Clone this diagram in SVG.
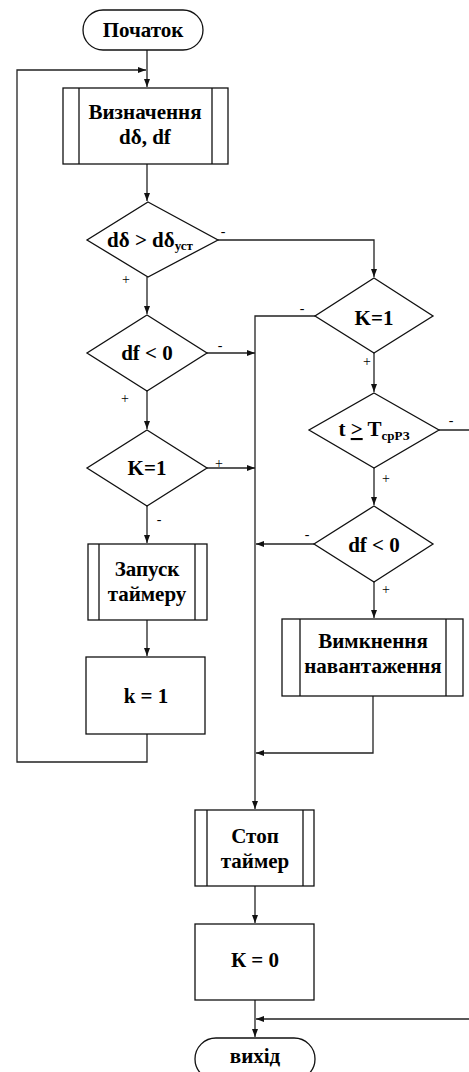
<svg xmlns="http://www.w3.org/2000/svg" width="469" height="1072" viewBox="0 0 469 1072" font-family="Liberation Serif, Times New Roman, serif">
<defs>
<marker id="ar" viewBox="0 0 8 6" refX="8" refY="3" markerWidth="8" markerHeight="6" markerUnits="userSpaceOnUse" orient="auto">
<path d="M0,0 L8,3 L0,6 Z" fill="#111"/>
</marker>
<style>
.s{fill:#fff;stroke:#111;stroke-width:1.3}
.c{fill:none;stroke:#222;stroke-width:1.3}
.t{font-weight:bold;font-size:21px;fill:#000;text-anchor:middle}
.sub{font-size:13px}
.l{font-size:14px;fill:#000;text-anchor:middle}
</style>
</defs>
<rect width="469" height="1072" fill="#fff"/>
<g id="connectors">
<path class="c" d="M147,50 V87" marker-end="url(#ar)"/>
<path class="c" d="M147,734 V762 H17 V70 H146" marker-end="url(#ar)"/>
<path class="c" d="M147,164 V201" marker-end="url(#ar)"/>
<path class="c" d="M218,240 H374 V277" marker-end="url(#ar)"/>
<path class="c" d="M147,277 V314" marker-end="url(#ar)"/>
<path class="c" d="M207,353 H255" marker-end="url(#ar)"/>
<path class="c" d="M147,391 V429" marker-end="url(#ar)"/>
<path class="c" d="M207,468 H255" marker-end="url(#ar)"/>
<path class="c" d="M147,506 V543" marker-end="url(#ar)"/>
<path class="c" d="M147,620 V656" marker-end="url(#ar)"/>
<path class="c" d="M315,316 H255 V809" marker-end="url(#ar)"/>
<path class="c" d="M374,353 V392" marker-end="url(#ar)"/>
<path class="c" d="M374,468 V505" marker-end="url(#ar)"/>
<path class="c" d="M314,544 H256" marker-end="url(#ar)"/>
<path class="c" d="M374,582 V618" marker-end="url(#ar)"/>
<path class="c" d="M373,696 V753 H256" marker-end="url(#ar)"/>
<path class="c" d="M439,430 H470 V1019 H256" marker-end="url(#ar)"/>
<path class="c" d="M255,886 V923" marker-end="url(#ar)"/>
<path class="c" d="M255,1000 V1037" marker-end="url(#ar)"/>
<text class="l" x="223" y="236">-</text>
<text class="l" x="126" y="284">+</text>
<text class="l" x="302" y="313">-</text>
<text class="l" x="367" y="366">+</text>
<text class="l" x="220" y="350">-</text>
<text class="l" x="125" y="403">+</text>
<text class="l" x="219" y="468">+</text>
<text class="l" x="159" y="524">-</text>
<text class="l" x="451" y="425">-</text>
<text class="l" x="386" y="483">+</text>
<text class="l" x="307" y="539">-</text>
<text class="l" x="386" y="594">+</text>
</g>
<g id="start">
<rect class="s" x="83" y="10" width="120" height="40" rx="20"/>
<text class="t" x="143" y="37">Початок</text>
</g>
<g id="determine">
<rect class="s" x="63" y="88" width="165" height="76"/>
<path class="s" d="M79,88 V164 M212,88 V164"/>
<text class="t" x="145" y="119">Визначення</text>
<text class="t" x="145" y="144">dδ, df</text>
</g>
<g id="cond1">
<polygon class="s" points="148,202 218,240 148,277 87,240"/>
<text class="t" x="150" y="247">dδ &gt; dδ<tspan class="sub" dy="3">уст</tspan></text>
</g>
<g id="cond_df_left">
<polygon class="s" points="147,315 207,353 147,391 87,353"/>
<text class="t" x="147" y="360">df &lt; 0</text>
</g>
<g id="cond_k_left">
<polygon class="s" points="147,430 207,468 147,506 87,468"/>
<text class="t" x="147" y="475">K=1</text>
</g>
<g id="start_timer">
<rect class="s" x="88" y="544" width="119" height="76"/>
<path class="s" d="M99,544 V620 M195,544 V620"/>
<text class="t" x="147" y="576">Запуск</text>
<text class="t" x="147" y="601">таймеру</text>
</g>
<g id="k1">
<rect class="s" x="86" y="657" width="119" height="77"/>
<text class="t" x="146" y="703">k = 1</text>
</g>
<g id="cond_k_right">
<polygon class="s" points="374,278 433,316 374,353 315,316"/>
<text class="t" x="374" y="325">K=1</text>
</g>
<g id="cond_t">
<polygon class="s" points="374,393 439,430 374,468 309,430"/>
<text class="t" x="374" y="436">t <tspan text-decoration="underline">&gt;</tspan> T<tspan class="sub" dy="4">срРЗ</tspan></text>
</g>
<g id="cond_df_right">
<polygon class="s" points="374,506 433,544 374,582 314,544"/>
<text class="t" x="374" y="552">df &lt; 0</text>
</g>
<g id="load_off">
<rect class="s" x="282" y="619" width="181" height="77"/>
<path class="s" d="M300,619 V696 M446,619 V696"/>
<text class="t" x="373" y="648">Вимкнення</text>
<text class="t" x="373" y="673">навантаження</text>
</g>
<g id="stop_timer">
<rect class="s" x="195" y="810" width="119" height="76"/>
<path class="s" d="M207,810 V886 M303,810 V886"/>
<text class="t" x="255" y="843">Стоп</text>
<text class="t" x="255" y="868">таймер</text>
</g>
<g id="k0">
<rect class="s" x="195" y="924" width="119" height="76"/>
<text class="t" x="255" y="967">К = 0</text>
</g>
<g id="end">
<rect class="s" x="195" y="1038" width="120" height="42" rx="21"/>
<text class="t" x="255" y="1063">вихід</text>
</g>
</svg>
